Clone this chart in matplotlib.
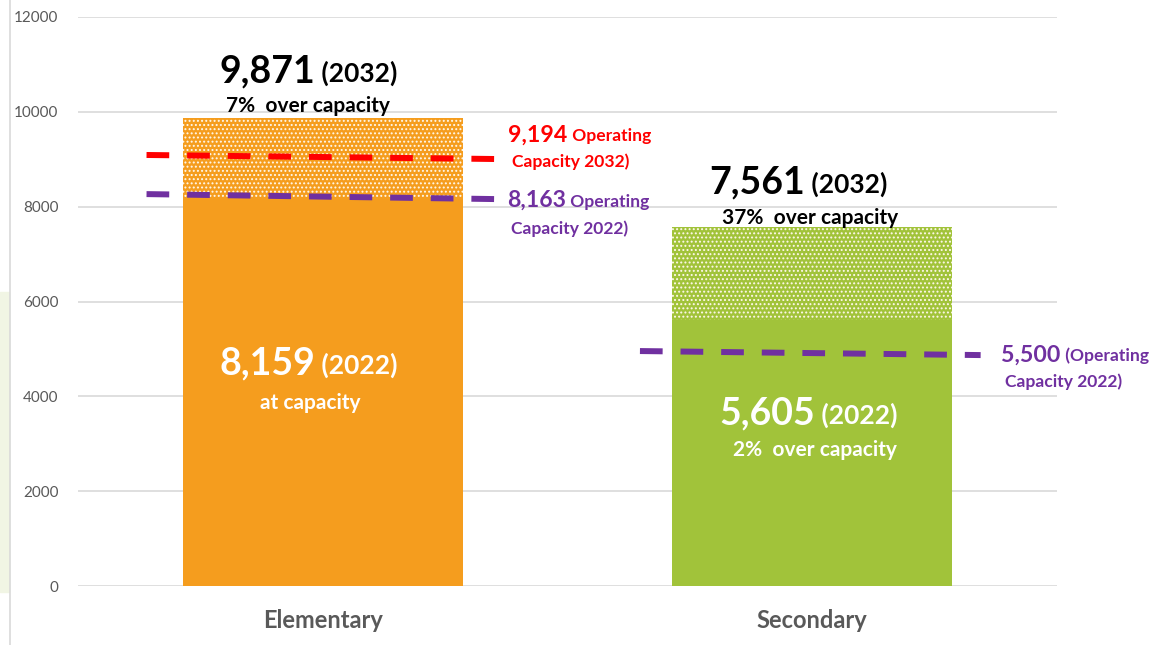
import matplotlib.pyplot as plt
from matplotlib.patches import Rectangle
from matplotlib.lines import Line2D

plt.rcParams['font.family'] = ['Lato', 'DejaVu Sans']
plt.rcParams['hatch.linewidth'] = 0.9

# data
categories = ['Elementary', 'Secondary']
enrol_2022 = [8159, 5605]
enrol_2032 = [9871, 7561]
pct_2032 = ['7%  over capacity', '37%  over capacity']
note_2022 = ['at capacity', '2%  over capacity']

# operating capacity markers (as drawn: slightly sloped)
cap_labels = ['9,194', '8,163', '5,500']
cap_text = [('Operating', 'Capacity 2032)'), ('Operating', 'Capacity 2022)'),
            ('(Operating', 'Capacity 2022)')]
cap_cat = [0, 0, 1]
cap_start = [9090, 8265, 4955]
cap_end = [9005, 8160, 4870]
cap_colors = ['#FF0000', '#7030A0', '#7030A0']

bar_colors = ['#F59D1E', '#A1C33A']
grey = '#595959'

fig = plt.figure(figsize=(11.54, 6.45), dpi=100)
ax = fig.add_axes([78 / 1154, 1 - 586 / 645, (1057 - 78) / 1154, (586 - 17) / 645])

x = list(range(len(categories)))
w = 0.573
ax.bar(x, enrol_2022, width=w, color=bar_colors, linewidth=0, zorder=2)
top = [b - a for a, b in zip(enrol_2022, enrol_2032)]
ax.bar(x, top, bottom=enrol_2022, width=w, color=bar_colors, edgecolor='#FFF8EC',
       linewidth=0, hatch='....', zorder=2)

ax.set_xlim(-0.5, 1.5)
ax.set_ylim(0, 12000)
ax.set_yticks(range(0, 12001, 2000))
ax.grid(axis='y', color='#D9D9D9', linewidth=1.2, zorder=0)
ax.set_axisbelow(True)
for s in ax.spines.values():
    s.set_visible(False)
ax.tick_params(axis='y', length=0, pad=14, labelsize=11, labelcolor=grey)
ax.tick_params(axis='x', length=0, pad=16.5)
ax.set_xticks(x)
ax.set_xticklabels(categories, fontsize=17, fontweight='bold', color=grey)

# capacity dashed lines
for i in range(len(cap_labels)):
    c = cap_cat[i]
    x0 = c - 0.36 if c == 0 else c - 0.352
    x1 = c + 0.352 if c == 0 else c + 0.344
    ax.plot([x0, x1], [cap_start[i], cap_end[i]], color=cap_colors[i], lw=4.3,
            dashes=(3.8, 3.0), solid_capstyle='butt', dash_capstyle='butt', zorder=3)

# labels for capacity lines
lab_pos = [(0.379, 9510, 8940), (0.377, 8130, 7530), (1.386, 4870, 4300)]
for i, (lx, y1, y2) in enumerate(lab_pos):
    col = cap_colors[i]
    t = ax.text(lx, y1, cap_labels[i], color=col, fontsize=16.7, fontweight='bold',
                va='center', ha='left')
    ax.annotate(' ' + cap_text[i][0], xy=(1, 0.45), xycoords=t, color=col,
                fontsize=12.6, fontweight='bold', va='center', ha='left')
    ax.text(lx + 0.008, y2, cap_text[i][1], color=col, fontsize=12.6,
            fontweight='bold', va='center', ha='left')

# 2032 totals above bars
top_y = [(10850, 10130), (8500, 7770)]
for i in range(len(categories)):
    ya, yb = top_y[i]
    t = ax.text(x[i] - 0.015, ya, f'{enrol_2032[i]:,}', fontsize=27, fontweight='bold',
                ha='right', va='center', color='black')
    ax.annotate(' (2032)', xy=(1, 0.45), xycoords=t, fontsize=19, fontweight='bold',
                ha='left', va='center', color='black')
    ax.text(x[i] - 0.03 if i == 0 else x[i] - 0.005, yb, pct_2032[i], fontsize=15,
            fontweight='bold', ha='center', va='center', color='black')

# 2022 values inside bars
in_y = [(4700, 3850), (3640, 2860)]
for i in range(len(categories)):
    ya, yb = in_y[i]
    t = ax.text(x[i] - 0.015 if i == 0 else x[i] + 0.005, ya, f'{enrol_2022[i]:,}',
                fontsize=27, fontweight='bold', ha='right', va='center', color='white')
    ax.annotate(' (2022)', xy=(1, 0.45), xycoords=t, fontsize=19, fontweight='bold',
                ha='left', va='center', color='white')
    ax.text(x[i] - 0.025 if i == 0 else x[i] + 0.005, yb, note_2022[i], fontsize=15,
            fontweight='bold', ha='center', va='center', color='white')

# slide border / background strip on the left
fig.patches.append(Rectangle((0, 1 - 592 / 645), 9 / 1154, 300 / 645,
                             transform=fig.transFigure, color='#F1F5E4', zorder=0))
fig.lines.append(Line2D([10 / 1154, 10 / 1154], [0, 1], transform=fig.transFigure,
                        color='#D9D9D9', lw=1.2))

fig.savefig('out.png', dpi=100)
